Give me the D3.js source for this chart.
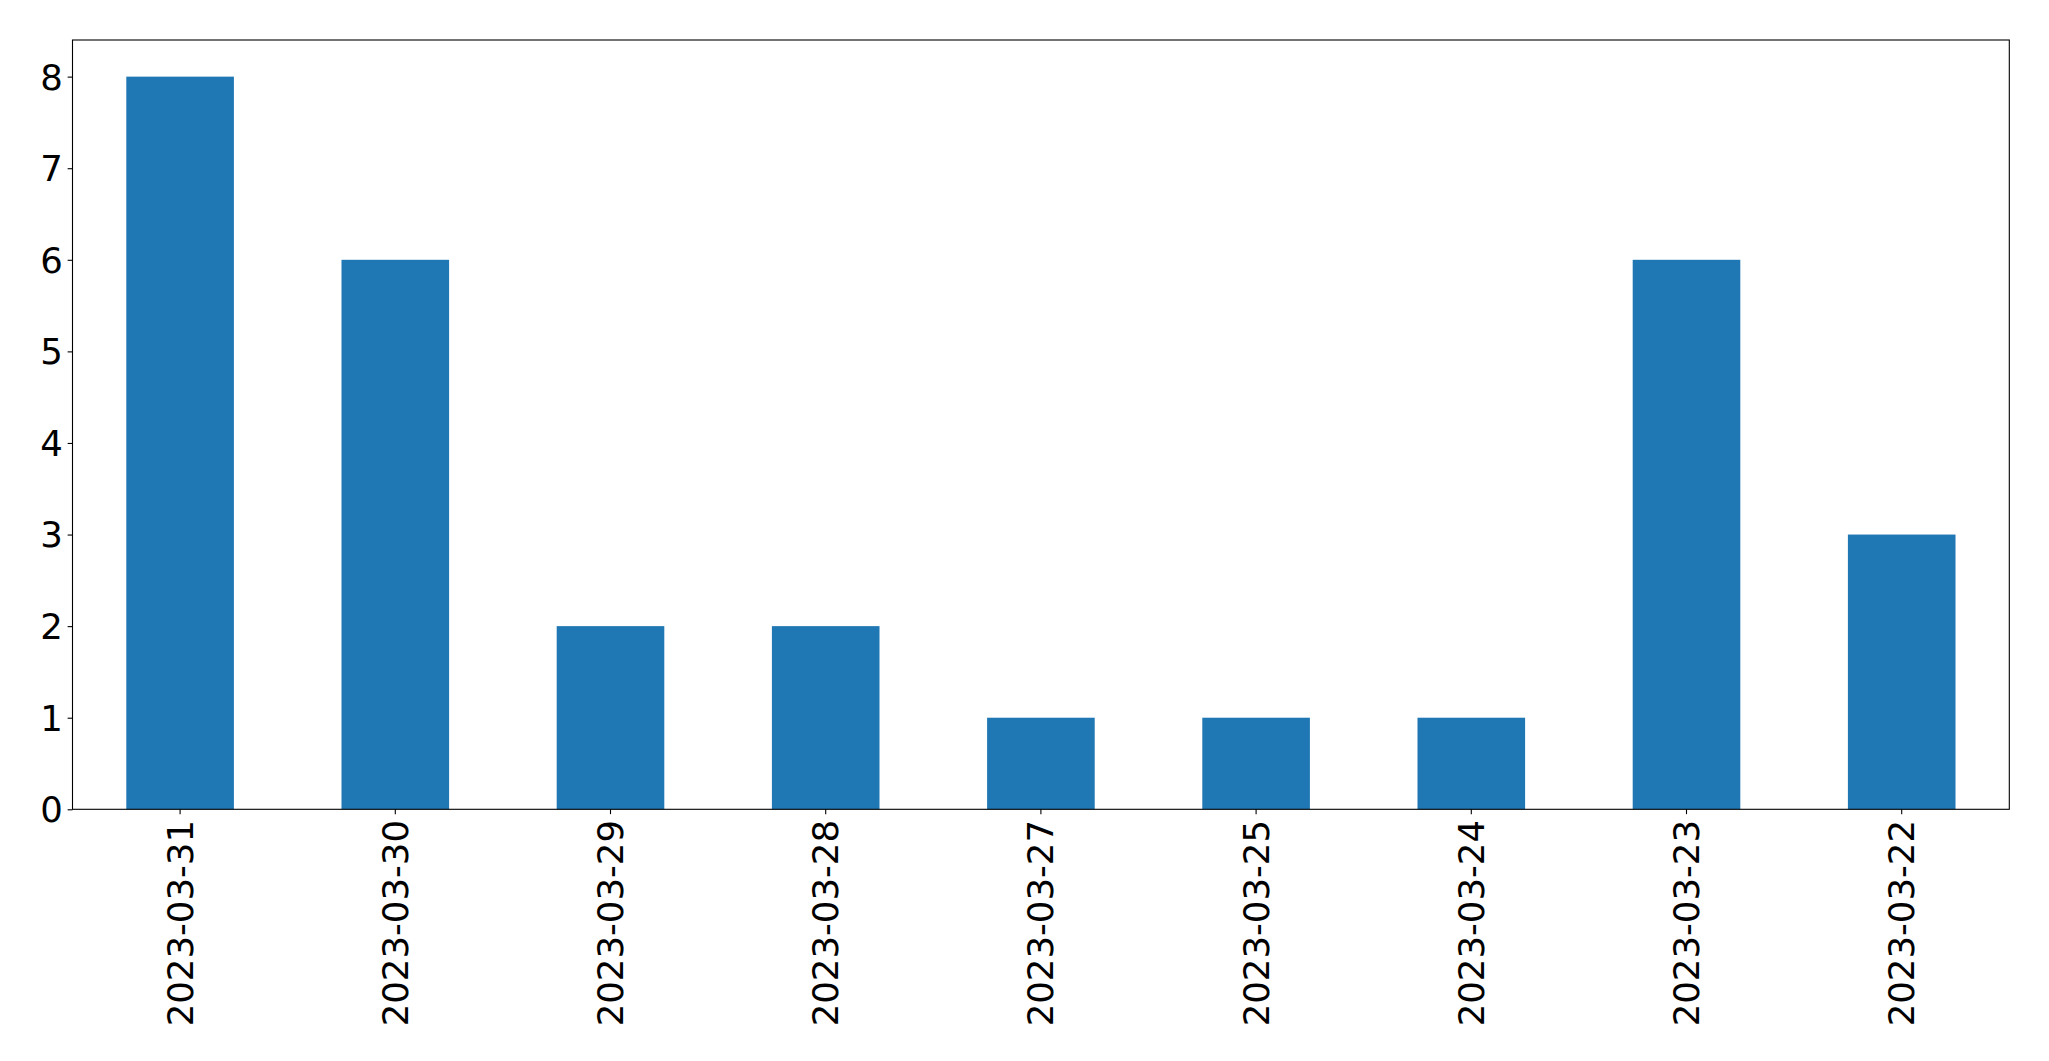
<!DOCTYPE html>
<html>
<head>
<meta charset="utf-8">
<script src="https://cdn.jsdelivr.net/npm/d3@7"></script>
<style>
  html, body { margin: 0; padding: 0; background: #fff; }
  svg { display: block; }
  text { font-family: "DejaVu Sans", sans-serif; }
</style>
</head>
<body>
<svg id="chart" width="2049" height="1061"></svg>
<script>
const categories = ["2023-03-31","2023-03-30","2023-03-29","2023-03-28","2023-03-27","2023-03-25","2023-03-24","2023-03-23","2023-03-22"];
const values = [8, 6, 2, 2, 1, 1, 1, 6, 3];
const yTicks = [0, 1, 2, 3, 4, 5, 6, 7, 8];

const W = 2049, H = 1061;
const margin = { left: 72.5, right: W - 2009.3, top: 40, bottom: H - 809.3 };
const svg = d3.select("#chart");
const iw = W - margin.left - margin.right;
const ih = H - margin.top - margin.bottom;

const g = svg.append("g").attr("transform", `translate(${margin.left},${margin.top})`);

const x = d3.scaleBand().domain(categories).range([0, iw]).paddingInner(0.5).paddingOuter(0.25);
const y = d3.scaleLinear().domain([0, 8.4]).range([ih, 0]);

g.selectAll("rect.bar").data(values).enter().append("rect")
  .attr("class", "bar")
  .attr("x", (d, i) => x(categories[i]))
  .attr("width", x.bandwidth())
  .attr("y", d => y(d))
  .attr("height", d => y(0) - y(d))
  .attr("fill", "#1f77b4");

const fs = 35.5;
const tickLen = 4.86, pad = 4.86;

const yAxis = d3.axisLeft(y).tickValues(yTicks).tickSize(tickLen).tickPadding(pad).tickFormat(d3.format("d"));
const ya = g.append("g").call(yAxis);
ya.select(".domain").remove();
ya.selectAll("line").attr("stroke", "#000").attr("stroke-width", 1.1);
ya.selectAll("text").attr("font-size", fs).attr("fill", "#000").attr("dy", "0.35em");

const xAxis = d3.axisBottom(x).tickSize(tickLen).tickPadding(pad);
const xa = g.append("g").attr("transform", `translate(0,${ih})`).call(xAxis);
xa.select(".domain").remove();
xa.selectAll("line").attr("stroke", "#000").attr("stroke-width", 1.1);
xa.selectAll("text")
  .attr("font-size", fs).attr("fill", "#000")
  .attr("text-anchor", "end")
  .attr("transform", `translate(0,${tickLen + pad + 1}) rotate(-90)`)
  .attr("x", 0).attr("y", 0).attr("dy", "0.35em");

g.append("rect").attr("x", 0).attr("y", 0).attr("width", iw).attr("height", ih)
  .attr("fill", "none").attr("stroke", "#000").attr("stroke-width", 1.1);
</script>
</body>
</html>
